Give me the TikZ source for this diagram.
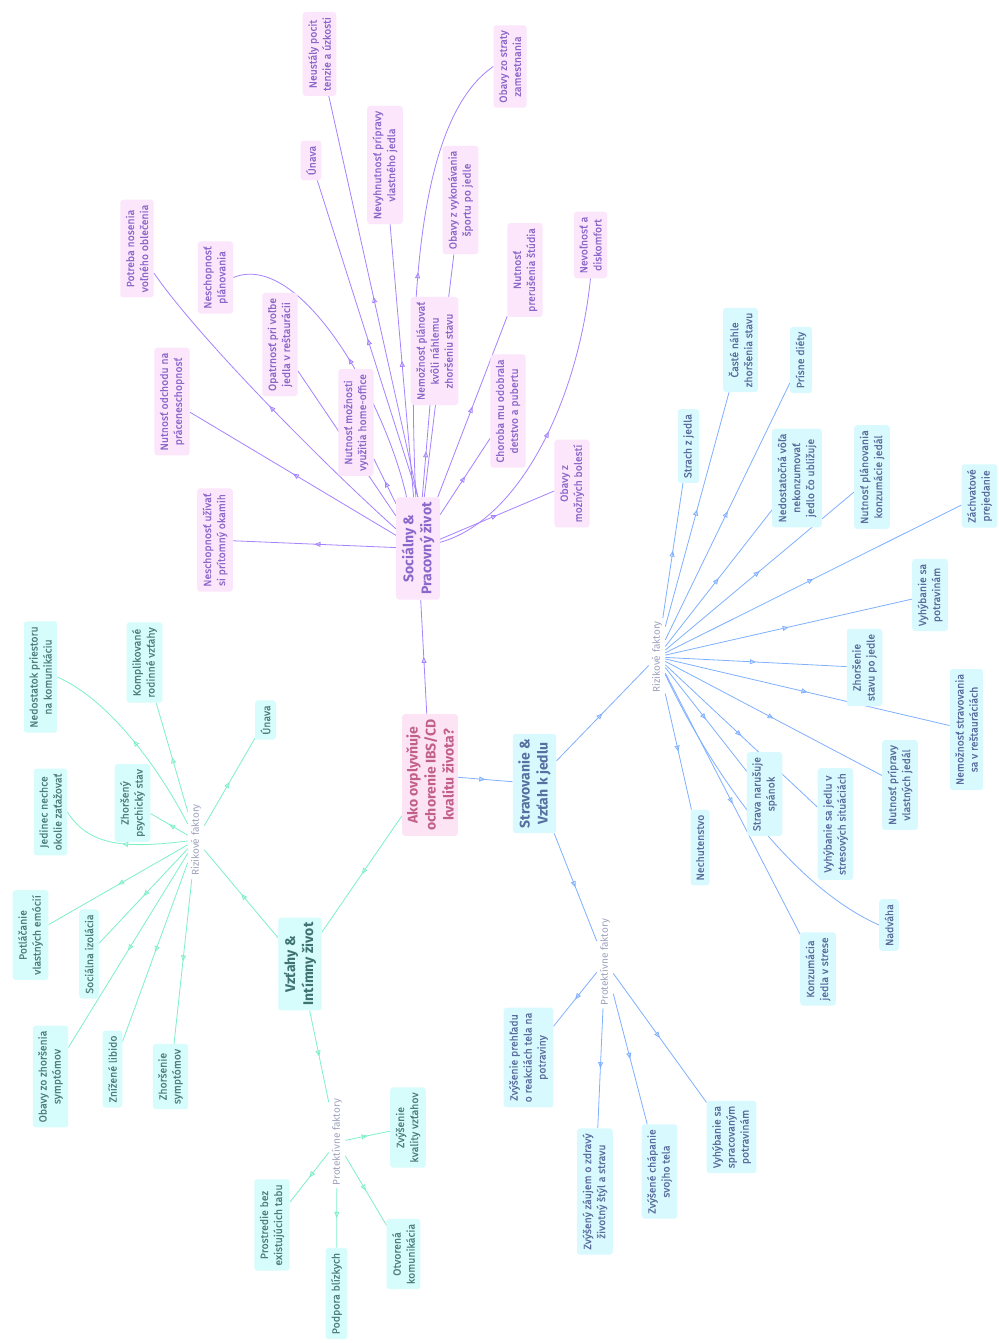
\documentclass[tikz,border=0pt]{standalone}
\usepackage{fontspec}
\setmainfont{Fira Sans}
\newfontfamily\leaffont{Fira Sans}[FakeBold=0.35]
\usetikzlibrary{arrows.meta,decorations.markings}
\pgfdeclarelayer{background}
\pgfsetlayers{background,main}
\definecolor{pfill}{HTML}{FBE6FB}
\definecolor{ptext}{HTML}{8B67C9}
\definecolor{pline}{HTML}{A582FF}
\definecolor{rfill}{HTML}{FDE4F4}
\definecolor{rtext}{HTML}{C2608C}
\definecolor{gfill}{HTML}{D6FDFB}
\definecolor{gtext}{HTML}{4E7D7E}
\definecolor{gtitle}{HTML}{3F7272}
\definecolor{gline}{HTML}{7DF0C8}
\definecolor{bfill}{HTML}{D8FAFF}
\definecolor{btext}{HTML}{5A6C9C}
\definecolor{btitle}{HTML}{5670A0}
\definecolor{bline}{HTML}{7EB0FF}
\definecolor{lbl}{HTML}{9FA3BE}
\tikzset{
  box/.style={rounded corners=3pt, rotate=90, align=center, inner xsep=5pt, inner ysep=5.5pt, font=\leaffont\fontsize{10.5}{14}\selectfont},
  leafP/.style={box, fill=pfill, text=ptext},
  leafG/.style={box, fill=gfill, text=gtext},
  leafB/.style={box, fill=bfill, text=btext},
  titleP/.style={box, fill=pfill, text=ptext, font=\fontsize{14}{18}\selectfont\bfseries, inner xsep=5pt},
  titleG/.style={box, fill=gfill, text=gtitle, font=\fontsize{14}{18}\selectfont\bfseries, inner xsep=5pt},
  titleB/.style={box, fill=bfill, text=btitle, font=\fontsize{14}{18}\selectfont\bfseries, inner xsep=5pt},
  rootbox/.style={box, fill=rfill, text=rtext, font=\fontsize{14}{18}\selectfont\bfseries, inner xsep=5pt, inner ysep=4pt},
  factor/.style={rotate=90, text=lbl, inner sep=3pt, font=\fontsize{10}{12}\selectfont},
  midtip/.style={postaction={decorate}, decoration={markings, mark=at position 0.5 with {\arrow{Triangle[open,length=6pt,width=5pt]}}}},
  edgeP/.style={color=pline, line width=0.8pt, midtip},
  edgeG/.style={color=gline, line width=0.8pt, midtip},
  edgeB/.style={color=bline, line width=0.8pt, midtip},
}
\begin{document}
\begin{tikzpicture}[x=1pt,y=-1pt]
\useasboundingbox (0,0) rectangle (998,1343);

% ---------- main nodes ----------
\node[rootbox] (root) at (430,775) {Ako ovplyvňuje\\ochorenie IBS/CD\\kvalitu života?};
\node[titleP] (soc) at (418,548.5) {Sociálny \&\\Pracovný život};
\node[titleG] (vztahy) at (300,964) {Vzťahy \&\\Intímny život};
\node[titleB] (strav) at (534.5,783.5) {Stravovanie \&\\Vzťah k jedlu};

% ---------- purple leaves ----------
\node[leafP] (neust) at (319.5,54) {Neustály pocit\\tenzie a úzkosti};
\node[leafP] (unavaP) at (311,160.5) {Únava};
\node[leafP] (potreba) at (137,248.5) {Potreba nosenia\\voľného oblečenia};
\node[leafP] (neschPlan) at (215.5,277.5) {Neschopnosť\\plánovania};
\node[leafP] (opatr) at (280,344.5) {Opatrnosť pri voľbe\\jedla v reštaurácii};
\node[leafP] (nevyh) at (385,165) {Nevyhnutnosť prípravy\\vlastného jedla};
\node[leafP] (sport) at (460.5,200) {Obavy z vykonávania\\športu po jedle};
\node[leafP] (strata) at (510,66.5) {Obavy zo straty\\zamestnania};
\node[leafP] (studium) at (525,270) {Nutnosť\\prerušenia štúdia};
\node[leafP] (nevoln) at (590.5,245) {Nevoľnosť a\\diskomfort};
\node[leafP] (odchod) at (172,401.5) {Nutnosť odchodu na\\práceneschopnosť};
\node[leafP] (home) at (356,422.5) {Nutnosť možnosti\\využitia home-office};
\node[leafP] (okamih) at (215,540) {Neschopnosť užívať\\si prítomný okamih};
\node[leafP] (nahle) at (434.5,351) {Nemožnosť plánovať\\kvôli náhlemu\\zhoršeniu stavu};
\node[leafP] (detstvo) at (508,411) {Choroba mu odobrala\\detstvo a pubertu};
\node[leafP] (bolesti) at (572,483.5) {Obavy z\\možných bolestí};

% ---------- green nodes ----------
\node[factor] (rizG) at (196,840) {Rizikové faktory};
\node[factor] (protG) at (337,1142) {Protektívne faktory};
\node[leafG] (nedost) at (40.5,677) {Nedostatok priestoru\\na komunikáciu};
\node[leafG] (kompl) at (144.5,662.5) {Komplikované\\rodinné vzťahy};
\node[leafG] (unavaG) at (265.5,720) {Únava};
\node[leafG] (jedinec) at (50.5,812) {Jedinec nechce\\okolie zaťažovať};
\node[leafG] (psych) at (132.5,803) {Zhoršený\\psychický stav};
\node[leafG] (potlac) at (30.5,935) {Potláčanie\\vlastných emócií};
\node[leafG] (izol) at (89,954) {Sociálna izolácia};
\node[leafG] (obavyZh) at (50.5,1076.5) {Obavy zo zhoršenia\\symptómov};
\node[leafG] (libido) at (112.5,1069) {Znížené libido};
\node[leafG] (zhSympt) at (170.5,1076.5) {Zhoršenie\\symptómov};
\node[leafG] (kvalita) at (408,1127.5) {Zvýšenie\\kvality vzťahov};
\node[leafG] (tabu) at (272,1225) {Prostredie bez\\existujúcich tabu};
\node[leafG] (podpora) at (336.5,1293.5) {Podpora blízkych};
\node[leafG] (otvor) at (403.5,1254) {Otvorená\\komunikácia};

% ---------- blue nodes ----------
\node[factor] (rizB) at (657,657) {Rizikové faktory};
\node[factor] (protB) at (605,962) {Protektívne faktory};
\node[leafB] (prehlad) at (528.5,1057.5) {Zvýšenie prehľadu\\o reakciách tela na\\potraviny};
\node[leafB] (zaujem) at (595,1191.5) {Zvýšený záujem o zdravý\\životný štýl a stravu};
\node[leafB] (chapanie) at (659.5,1171.5) {Zvýšené chápanie\\svojho tela};
\node[leafB] (sprac) at (731.5,1137) {Vyhýbanie sa\\spracovaným\\potravinám};
\node[leafB] (strach) at (688.5,446) {Strach z jedla};
\node[leafB] (caste) at (740.5,350) {Časté náhle\\zhoršenia stavu};
\node[leafB] (prisne) at (801,360) {Prísne diéty};
\node[leafB] (vola) at (797,478) {Nedostatočná vôľa\\nekonzumovať\\jedlo čo ubližuje};
\node[leafB] (planKonz) at (872,477) {Nutnosť plánovania\\konzumácie jedál};
\node[leafB] (zachvat) at (979.5,496) {Záchvatové\\prejedanie};
\node[leafB] (vyhPotr) at (930,595) {Vyhýbanie sa\\potravinám};
\node[leafB] (zhorPoJ) at (864.5,667.5) {Zhoršenie\\stavu po jedle};
\node[leafB] (restaur) at (966.5,729.5) {Nemožnosť stravovania\\sa v reštauráciách};
\node[leafB] (pripravy) at (900,785) {Nutnosť prípravy\\vlastných jedál};
\node[leafB] (stres) at (835.5,824) {Vyhýbanie sa jedlu v\\stresových situáciách};
\node[leafB] (spanok) at (764.5,794) {Strava narušuje\\spánok};
\node[leafB] (nechut) at (700,847.5) {Nechutenstvo};
\node[leafB] (konzStres) at (818,969) {Konzumácia\\jedla v strese};
\node[leafB] (nadvaha) at (889,925) {Nadváha};

% ---------- connectors (behind the boxes) ----------
\begin{pgfonlayer}{background}
\fill[white] (0,0) rectangle (998,1343);
\draw[edgeP] (root) -- (soc);
\draw[edgeB] (root) -- (strav);
\draw[edgeG] (root) -- (vztahy);

\foreach \n in {sport,studium,odchod,home,okamih,nahle,detstvo,bolesti,opatr,nevyh}
  \draw[edgeP] (soc) -- (\n);
\draw[edgeP] (soc.east) -- (unavaP);
\draw[edgeP] (soc.east) -- (neust);
\draw[edgeP] (soc) .. controls (330,470) and (200,340) .. (potreba);
\draw[edgeP] (soc) .. controls (385,400) and (300,250) .. (neschPlan.south);
\draw[edgeP] (soc) .. controls (405,250) and (430,110) .. (strata.north);
\draw[edgeP] (soc) .. controls (520,520) and (578,400) .. (nevoln.west);

\draw[edgeG] (vztahy) -- (rizG);
\draw[edgeG] (vztahy) -- (protG);
\foreach \n in {kompl,unavaG,psych,potlac,izol,obavyZh,libido,zhSympt}
  \draw[edgeG] (rizG) -- (\n);
\draw[edgeG] (rizG) .. controls (160,770) and (110,700) .. (nedost.south);
\draw[edgeG] (rizG) .. controls (130,848) and (90,848) .. (jedinec.south);
\foreach \n in {kvalita,tabu,podpora,otvor}
  \draw[edgeG] (protG) -- (\n);

\draw[edgeB] (strav) -- (rizB);
\draw[edgeB] (strav) -- (protB);
\foreach \n in {strach,caste,prisne,vola,planKonz,zachvat,vyhPotr,zhorPoJ,restaur,pripravy,stres,spanok,nechut,konzStres}
  \draw[edgeB] (rizB) -- (\n);
\draw[edgeB] (rizB) .. controls (720,790) and (800,890) .. (nadvaha.north);
\foreach \n in {prehlad,zaujem,chapanie,sprac}
  \draw[edgeB] (protB) -- (\n);
\end{pgfonlayer}
\end{tikzpicture}
\end{document}
